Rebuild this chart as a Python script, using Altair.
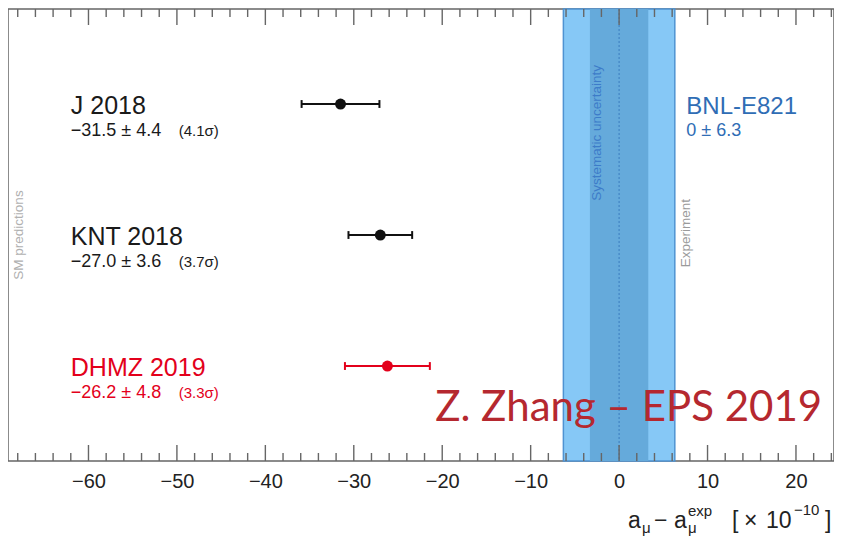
import altair as alt
import pandas as pd

# ---- data ----
names = ["J 2018", "KNT 2018", "DHMZ 2019"]
values = [-31.5, -27.0, -26.2]
errors = [4.4, 3.6, 4.8]
value_labels = ["−31.5 ± 4.4", "−27.0 ± 3.6", "−26.2 ± 4.8"]
sigma_labels = ["(4.1σ)", "(3.7σ)", "(3.3σ)"]
rows = [1, 2, 3]
colors = ["#111111", "#111111", "#e3001b"]
text_colors = ["#1a1a1a", "#1a1a1a", "#e3001b"]

exp_name = "BNL-E821"
exp_label = "0 ± 6.3"
exp_value = 0.0
exp_total = 6.3
exp_syst = 3.3

major_ticks = [-60, -50, -40, -30, -20, -10, 0, 10, 20]
minor_ticks = [-68, -66, -64, -62, -58, -56, -54, -52, -48, -46, -44, -42,
               -38, -36, -34, -32, -28, -26, -24, -22, -18, -16, -14, -12,
               -8, -6, -4, -2, 2, 4, 6, 8, 12, 14, 16, 18, 22, 24]

# ---- geometry / style ----
W, H = 826, 452
X_DOMAIN = [-69.1, 24.3]
Y_DOMAIN = [0.2748, 3.725]
FONT = "Liberation Sans"
FRAME = "#666666"

df = pd.DataFrame({
    "name": names, "value": values, "err": errors, "row": rows,
    "vlabel": value_labels, "slabel": sigma_labels,
    "color": colors, "tcolor": text_colors,
})
df["lo"] = df["value"] - df["err"]
df["hi"] = df["value"] + df["err"]
df["cap_lo"] = df["row"] - 0.03
df["cap_hi"] = df["row"] + 0.03

band = pd.DataFrame({
    "lo": [exp_value - exp_total, exp_value - exp_syst],
    "hi": [exp_value + exp_total, exp_value + exp_syst],
    "kind": ["total", "syst"],
})

xaxis = alt.Axis(values=major_ticks, title=None, ticks=False, domain=False,
                 grid=False, labelFontSize=20, labelFont=FONT,
                 labelColor="#222222", labelPadding=10,
                 labelExpr="replace(datum.label, '-', '−')")
xscale = alt.Scale(domain=X_DOMAIN, nice=False, zero=False)
yscale = alt.Scale(domain=Y_DOMAIN, nice=False, zero=False, reverse=True)


def X(field):
    return alt.X(field, type="quantitative", scale=xscale, axis=xaxis)


def Y(field):
    return alt.Y(field, type="quantitative", scale=yscale, axis=None)


base = alt.Chart(df)

outer = alt.Chart(band).transform_filter("datum.kind == 'total'").mark_rect(
    color="#86c8f6", stroke="#4f93d2", strokeWidth=1.5
).encode(x=X("lo"), x2="hi")

inner = alt.Chart(band).transform_filter("datum.kind == 'syst'").mark_rect(
    color="#65aadb"
).encode(x=X("lo"), x2="hi")

center = alt.Chart(pd.DataFrame({"v": [exp_value]})).mark_rule(
    color="#3b7cc0", strokeDash=[2, 2], strokeWidth=1
).encode(x=X("v"))

# inward ticks on top and bottom
tick_major = pd.DataFrame({"t": major_ticks})
tick_minor = pd.DataFrame({"t": minor_ticks})
tick_layers = []
for data, length in ((tick_major, 16), (tick_minor, 8)):
    tick_layers.append(alt.Chart(data).mark_rule(color=FRAME, strokeWidth=1.4).encode(
        x=X("t"), y=alt.value(0), y2=alt.value(length)))
    tick_layers.append(alt.Chart(data).mark_rule(color=FRAME, strokeWidth=1.4).encode(
        x=X("t"), y=alt.value(H), y2=alt.value(H - length)))

bars = base.mark_rule(strokeWidth=2.2).encode(
    x=X("lo"), x2="hi", y=Y("row"), color=alt.Color("color:N", scale=None))
caps_l = base.mark_rule(strokeWidth=2).encode(
    x=X("lo"), y=Y("cap_lo"), y2="cap_hi", color=alt.Color("color:N", scale=None))
caps_r = base.mark_rule(strokeWidth=2).encode(
    x=X("hi"), y=Y("cap_lo"), y2="cap_hi", color=alt.Color("color:N", scale=None))
points = base.mark_circle(size=120, opacity=1).encode(
    x=X("value"), y=Y("row"), color=alt.Color("color:N", scale=None))

name_text = base.mark_text(align="left", baseline="alphabetic", dy=10,
                           fontSize=25, font=FONT).encode(
    x=alt.datum(-62.0), y=Y("row"), text="name:N",
    color=alt.Color("tcolor:N", scale=None))
val_text = base.mark_text(align="left", baseline="alphabetic", dy=32,
                          fontSize=18, font=FONT).encode(
    x=alt.datum(-62.0), y=Y("row"), text="vlabel:N",
    color=alt.Color("tcolor:N", scale=None))
sig_text = base.mark_text(align="left", baseline="alphabetic", dy=32,
                          fontSize=15, font=FONT).encode(
    x=alt.datum(-49.8), y=Y("row"), text="slabel:N",
    color=alt.Color("tcolor:N", scale=None))

exp_df = pd.DataFrame({"name": [exp_name], "lab": [exp_label], "row": [1]})
exp_name_text = alt.Chart(exp_df).mark_text(
    align="left", baseline="alphabetic", dy=10, fontSize=24, font=FONT,
    color="#2f6db5").encode(x=alt.datum(7.6), y=Y("row"), text="name:N")
exp_lab_text = alt.Chart(exp_df).mark_text(
    align="left", baseline="alphabetic", dy=32, fontSize=18, font=FONT,
    color="#2f6db5").encode(x=alt.datum(7.6), y=Y("row"), text="lab:N")


def vtext(txt, x, row, color, size=13.5):
    return alt.Chart(pd.DataFrame({"t": [txt]})).mark_text(
        angle=270, align="center", baseline="middle", fontSize=size,
        font=FONT, color=color).encode(
        x=alt.datum(x), y=alt.datum(row), text="t:N")


sm_text = vtext("SM predictions", -67.9, 2.0, "#b0b0b0")
sys_text = vtext("Systematic uncertainty", -2.5, 1.22, "#3d7cc9")
expt_text = vtext("Experiment", 7.6, 1.985, "#9a9a9a")

zhang = alt.Chart(pd.DataFrame({"t": ["Z. Zhang – EPS 2019"]})).mark_text(
    align="left", baseline="alphabetic", fontSize=42, font="Lato",
    color="#b5282f").encode(x=alt.datum(-20.8), y=alt.datum(3.42), text="t:N")

# axis title pieces: a_mu - a_mu^exp [x 10^-10]
title_pieces = [
    ("a", 620, 519, 23), ("μ", 634, 524, 15), ("−", 646, 519, 23),
    ("a", 666, 519, 23), ("μ", 680, 524, 15), ("exp", 680, 507, 15),
    ("[", 724, 519, 23), ("×", 736, 519, 23), ("10", 758, 519, 23),
    ("−10", 786, 506, 15), ("]", 817, 519, 23),
]
title_layers = []
for txt, px, py, size in title_pieces:
    title_layers.append(alt.Chart(pd.DataFrame({"t": [txt]})).mark_text(
        align="left", baseline="alphabetic", fontSize=size, font=FONT,
        color="#222222").encode(x=alt.value(px), y=alt.value(py), text="t:N"))

chart = alt.layer(
    outer, inner, center, *tick_layers, bars, caps_l, caps_r, points,
    name_text, val_text, sig_text, exp_name_text, exp_lab_text,
    sm_text, sys_text, expt_text, zhang, *title_layers,
).properties(
    width=W, height=H, padding={"left": 0, "top": 0, "right": 0, "bottom": 0},
    background="white",
).configure_view(stroke=FRAME, strokeWidth=1.5)

chart.save("out.html", embed_options={"renderer": "svg", "actions": False})
